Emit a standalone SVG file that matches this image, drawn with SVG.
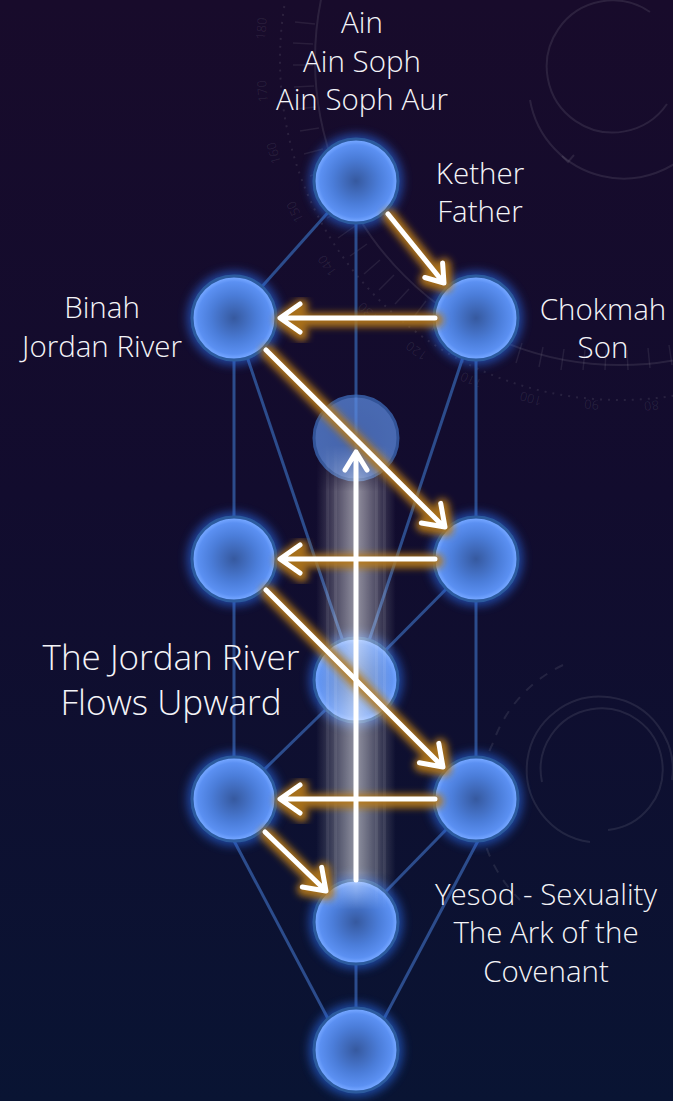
<svg xmlns="http://www.w3.org/2000/svg" width="673" height="1101" viewBox="0 0 673 1101">
<defs>
<linearGradient id="bg" x1="0" y1="0" x2="0" y2="1">
<stop offset="0" stop-color="#180b2b"/>
<stop offset="0.45" stop-color="#120c2e"/>
<stop offset="1" stop-color="#091433"/>
</linearGradient>
<radialGradient id="orbGrad" cx="0.5" cy="0.5" r="0.5">
<stop offset="0" stop-color="#36599f"/>
<stop offset="0.55" stop-color="#4b7dd9"/>
<stop offset="0.86" stop-color="#5b90f2"/>
<stop offset="0.95" stop-color="#72a4ff"/>
<stop offset="1" stop-color="#5e92f0"/>
</radialGradient>
<radialGradient id="daathGrad" cx="0.5" cy="0.5" r="0.5">
<stop offset="0" stop-color="#5a86dc"/>
<stop offset="1" stop-color="#5e8fe6"/>
</radialGradient>
<linearGradient id="colGrad" x1="0" y1="0" x2="1" y2="0">
<stop offset="0" stop-color="#ffffff" stop-opacity="0"/>
<stop offset="0.15" stop-color="#ffffff" stop-opacity="0.15"/>
<stop offset="0.35" stop-color="#ffffff" stop-opacity="0.38"/>
<stop offset="0.5" stop-color="#ffffff" stop-opacity="0.55"/>
<stop offset="0.65" stop-color="#ffffff" stop-opacity="0.38"/>
<stop offset="0.85" stop-color="#ffffff" stop-opacity="0.15"/>
<stop offset="1" stop-color="#ffffff" stop-opacity="0"/>
</linearGradient>
<linearGradient id="vfade" x1="0" y1="0" x2="0" y2="1">
<stop offset="0" stop-color="#fff" stop-opacity="0"/>
<stop offset="0.1" stop-color="#fff" stop-opacity="1"/>
<stop offset="0.92" stop-color="#fff" stop-opacity="1"/>
<stop offset="1" stop-color="#fff" stop-opacity="0"/>
</linearGradient>
<mask id="colMask" maskUnits="userSpaceOnUse" x="0" y="0" width="673" height="1101">
<rect x="310" y="445" width="92" height="465" fill="url(#vfade)"/>
</mask>
<filter id="halo" x="-50%" y="-50%" width="200%" height="200%">
<feGaussianBlur stdDeviation="5"/>
</filter>
<filter id="amber" x="-30%" y="-30%" width="160%" height="160%">
<feGaussianBlur stdDeviation="3.5"/>
</filter>
<filter id="soft" x="-50%" y="-10%" width="200%" height="120%">
<feGaussianBlur stdDeviation="2"/>
</filter>
<style>
.deco{fill:none;stroke:#ffffff;stroke-opacity:0.09;stroke-width:2}
.tick{stroke:#ffffff;stroke-opacity:0.08;stroke-width:1.5}
.num{font-family:"Open Sans","Liberation Sans",sans-serif;font-size:13px;fill:#ffffff;fill-opacity:0.08;text-anchor:middle}
.link{stroke:#2c4c8c;stroke-width:3;fill:none}
.halo{fill:#2a6ae8;opacity:0.6;filter:url(#halo)}
.orb{fill:url(#orbGrad);stroke:#2c5b9e;stroke-width:3}
.glow{fill:none;stroke:#b87a18;stroke-opacity:0.9;stroke-width:14;stroke-linecap:round;stroke-linejoin:round;filter:url(#amber)}
.arrow{fill:none;stroke:#ffffff;stroke-width:5;stroke-linecap:round;stroke-linejoin:round}
.lbl{font-family:"Open Sans","Segoe UI","Noto Sans",sans-serif;font-weight:300;font-size:29.5px;fill:#f4f4f8;text-anchor:middle}
.big{font-size:35px}
</style>
</defs>

<rect width="673" height="1101" fill="url(#bg)"/>

<g id="background-dial">
<circle class="deco" cx="620" cy="60" r="305"/>
<circle class="deco" cx="620" cy="60" r="340" stroke-dasharray="2 6" stroke-opacity="0.06"/>
<g id="dial-ticks">
<line class="tick" x1="315" y1="24" x2="295" y2="22"/>
<line class="tick" x1="313" y1="44" x2="293" y2="43"/>
<line class="tick" x1="313" y1="65" x2="293" y2="65"/>
<line class="tick" x1="314" y1="86" x2="294" y2="87"/>
<line class="tick" x1="316" y1="107" x2="296" y2="109"/>
<line class="tick" x1="319" y1="128" x2="300" y2="131"/>
<line class="tick" x1="323" y1="149" x2="304" y2="154"/>
<line class="tick" x1="329" y1="169" x2="310" y2="176"/>
<line class="tick" x1="336" y1="189" x2="318" y2="197"/>
<line class="tick" x1="345" y1="208" x2="327" y2="218"/>
<line class="tick" x1="355" y1="226" x2="338" y2="238"/>
<line class="tick" x1="367" y1="244" x2="350" y2="256"/>
<line class="tick" x1="380" y1="260" x2="364" y2="274"/>
<line class="tick" x1="394" y1="275" x2="379" y2="290"/>
<line class="tick" x1="409" y1="289" x2="395" y2="304"/>
<line class="tick" x1="426" y1="301" x2="413" y2="318"/>
<line class="tick" x1="443" y1="313" x2="432" y2="330"/>
<line class="tick" x1="462" y1="323" x2="452" y2="341"/>
<line class="tick" x1="481" y1="331" x2="472" y2="350"/>
<line class="tick" x1="501" y1="338" x2="494" y2="357"/>
<line class="tick" x1="522" y1="343" x2="516" y2="363"/>
<line class="tick" x1="543" y1="347" x2="539" y2="367"/>
<line class="tick" x1="564" y1="349" x2="561" y2="370"/>
<line class="tick" x1="585" y1="350" x2="583" y2="370"/>
<line class="tick" x1="606" y1="350" x2="605" y2="370"/>
<line class="tick" x1="627" y1="350" x2="628" y2="370"/>
<line class="tick" x1="648" y1="348" x2="650" y2="368"/>
<line class="tick" x1="669" y1="345" x2="672" y2="365"/>
</g>
<text class="num" transform="translate(266,29) rotate(-85)">180</text>
<text class="num" transform="translate(267,91) rotate(-95)">170</text>
<text class="num" transform="translate(278,152) rotate(-105)">160</text>
<text class="num" transform="translate(299,210) rotate(-115)">150</text>
<text class="num" transform="translate(331,263) rotate(-125)">140</text>
<text class="num" transform="translate(371,309) rotate(-135)">130</text>
<text class="num" transform="translate(419,347) rotate(-145)">120</text>
<text class="num" transform="translate(473,376) rotate(-155)">110</text>
<text class="num" transform="translate(532,394) rotate(-165)">100</text>
<text class="num" transform="translate(592,400) rotate(-175)">90</text>
<text class="num" transform="translate(651,401) rotate(175)">80</text>
<path class="deco" d="M 650 12 A 66 66 0 1 0 667 104"/>
<path class="deco" d="M 530 100 A 95 95 0 0 0 700 140"/>
<path class="deco" d="M 562 156 l 6 6 l 6 -7" stroke-width="1.5"/>
<path class="deco" d="M 590 842 A 73 73 0 1 1 672 780"/>
<path class="deco" d="M 542 782 A 61 61 0 1 1 608 830"/>
<path class="deco" d="M 563 665 A 135 135 0 0 0 493 743 M 493 743 A 135 135 0 0 0 520 900" stroke-dasharray="9 9" stroke-opacity="0.07"/>
</g>

<g id="connectors">
<g id="paths">
<line class="link" x1="356" y1="181" x2="476" y2="318"/>
<line class="link" x1="356" y1="181" x2="234" y2="318"/>
<line class="link" x1="356" y1="181" x2="356" y2="1050"/>
<line class="link" x1="234" y1="318" x2="476" y2="318"/>
<line class="link" x1="234" y1="318" x2="234" y2="799"/>
<line class="link" x1="476" y1="318" x2="476" y2="799"/>
<line class="link" x1="234" y1="318" x2="356" y2="680"/>
<line class="link" x1="476" y1="318" x2="356" y2="680"/>
<line class="link" x1="234" y1="559" x2="476" y2="559"/>
<line class="link" x1="234" y1="559" x2="356" y2="680"/>
<line class="link" x1="476" y1="559" x2="356" y2="680"/>
<line class="link" x1="356" y1="680" x2="234" y2="799"/>
<line class="link" x1="356" y1="680" x2="476" y2="799"/>
<line class="link" x1="234" y1="799" x2="476" y2="799"/>
<line class="link" x1="234" y1="799" x2="356" y2="922"/>
<line class="link" x1="476" y1="799" x2="356" y2="922"/>
<line class="link" x1="223" y1="820" x2="334" y2="1030"/>
<line class="link" x1="489" y1="820" x2="378" y2="1030"/>
</g>
</g>

<g id="kether"><circle class="halo" cx="356" cy="181" r="47"/><circle class="orb" cx="356" cy="181" r="42"/></g>
<g id="chokmah"><circle class="halo" cx="476" cy="318" r="47"/><circle class="orb" cx="476" cy="318" r="42"/></g>
<g id="binah"><circle class="halo" cx="234" cy="318" r="47"/><circle class="orb" cx="234" cy="318" r="42"/></g>
<g id="daath" opacity="0.72"><circle cx="356" cy="438" r="42" fill="url(#daathGrad)" stroke="#3f6fc0" stroke-width="3"/></g>
<g id="chesed"><circle class="halo" cx="476" cy="559" r="47"/><circle class="orb" cx="476" cy="559" r="42"/></g>
<g id="geburah"><circle class="halo" cx="234" cy="559" r="47"/><circle class="orb" cx="234" cy="559" r="42"/></g>
<g id="tiphareth"><circle class="halo" cx="356" cy="680" r="47"/><circle class="orb" cx="356" cy="680" r="42"/></g>
<g id="netzach"><circle class="halo" cx="476" cy="799" r="47"/><circle class="orb" cx="476" cy="799" r="42"/></g>
<g id="hod"><circle class="halo" cx="234" cy="799" r="47"/><circle class="orb" cx="234" cy="799" r="42"/></g>
<g id="yesod"><circle class="halo" cx="356" cy="922" r="47"/><circle class="orb" cx="356" cy="922" r="42"/></g>
<g id="malkuth"><circle class="halo" cx="356" cy="1050" r="47"/><circle class="orb" cx="356" cy="1050" r="42"/></g>

<g id="river-column" mask="url(#colMask)">
<rect x="316" y="445" width="80" height="465" fill="url(#colGrad)"/>
<rect x="326" y="445" width="3" height="465" fill="#ffffff" fill-opacity="0.07"/>
<rect x="334" y="445" width="3" height="465" fill="#ffffff" fill-opacity="0.07"/>
<rect x="375" y="445" width="3" height="465" fill="#ffffff" fill-opacity="0.07"/>
<rect x="383" y="445" width="3" height="465" fill="#ffffff" fill-opacity="0.07"/>
</g>

<g id="flow-arrows">
<g id="arrow-glows" transform="translate(1.5,2)">
<path class="glow" d="M 388 214 L 443 282 M 442.6 263 L 444 283 L 424.8 277.5"/>
<path class="glow" d="M 435 318 L 282 318 M 300 304 L 280 318 L 300 332"/>
<path class="glow" d="M 266 350 L 441 524 M 440.7 503.4 L 445 527 L 421.3 523"/>
<path class="glow" d="M 435 559 L 282 559 M 300 545 L 280 559 L 300 573"/>
<path class="glow" d="M 266 590 L 441 765 M 438.8 743.4 L 443 767 L 419.4 762.8"/>
<path class="glow" d="M 435 799 L 282 799 M 300 785 L 280 799 L 300 813"/>
<path class="glow" d="M 265 832 L 324 889 M 321.7 867.4 L 326 891 L 302.3 887"/>
</g>
<path class="arrow" d="M 388 214 L 443 282 M 442.6 263 L 444 283 L 424.8 277.5"/>
<path class="arrow" d="M 435 318 L 282 318 M 300 304 L 280 318 L 300 332"/>
<path class="arrow" d="M 266 350 L 441 524 M 440.7 503.4 L 445 527 L 421.3 523"/>
<path class="arrow" d="M 435 559 L 282 559 M 300 545 L 280 559 L 300 573"/>
<path class="arrow" d="M 266 590 L 441 765 M 438.8 743.4 L 443 767 L 419.4 762.8"/>
<path class="arrow" d="M 435 799 L 282 799 M 300 785 L 280 799 L 300 813"/>
<path class="arrow" d="M 265 832 L 324 889 M 321.7 867.4 L 326 891 L 302.3 887"/>
<path d="M 356 880 L 356 454" stroke="#ffffff" stroke-opacity="0.45" stroke-width="9" filter="url(#soft)"/>
<path class="arrow" d="M 356 880 L 356 453 M 345 470 L 356 452 L 367 470"/>
</g>

<g id="labels">
<text class="lbl" x="362" y="33">Ain</text>
<text class="lbl" x="362" y="72">Ain Soph</text>
<text class="lbl" x="362" y="110">Ain Soph Aur</text>
<text class="lbl" x="480" y="184">Kether</text>
<text class="lbl" x="480" y="222">Father</text>
<text class="lbl" x="603" y="320">Chokmah</text>
<text class="lbl" x="603" y="358">Son</text>
<text class="lbl" x="102" y="318">Binah</text>
<text class="lbl" x="102" y="357">Jordan River</text>
<text class="lbl big" x="171" y="670">The Jordan River</text>
<text class="lbl big" x="171" y="715">Flows Upward</text>
<text class="lbl" x="546" y="905">Yesod - Sexuality</text>
<text class="lbl" x="546" y="943">The Ark of the</text>
<text class="lbl" x="546" y="982">Covenant</text>
</g>
</svg>
